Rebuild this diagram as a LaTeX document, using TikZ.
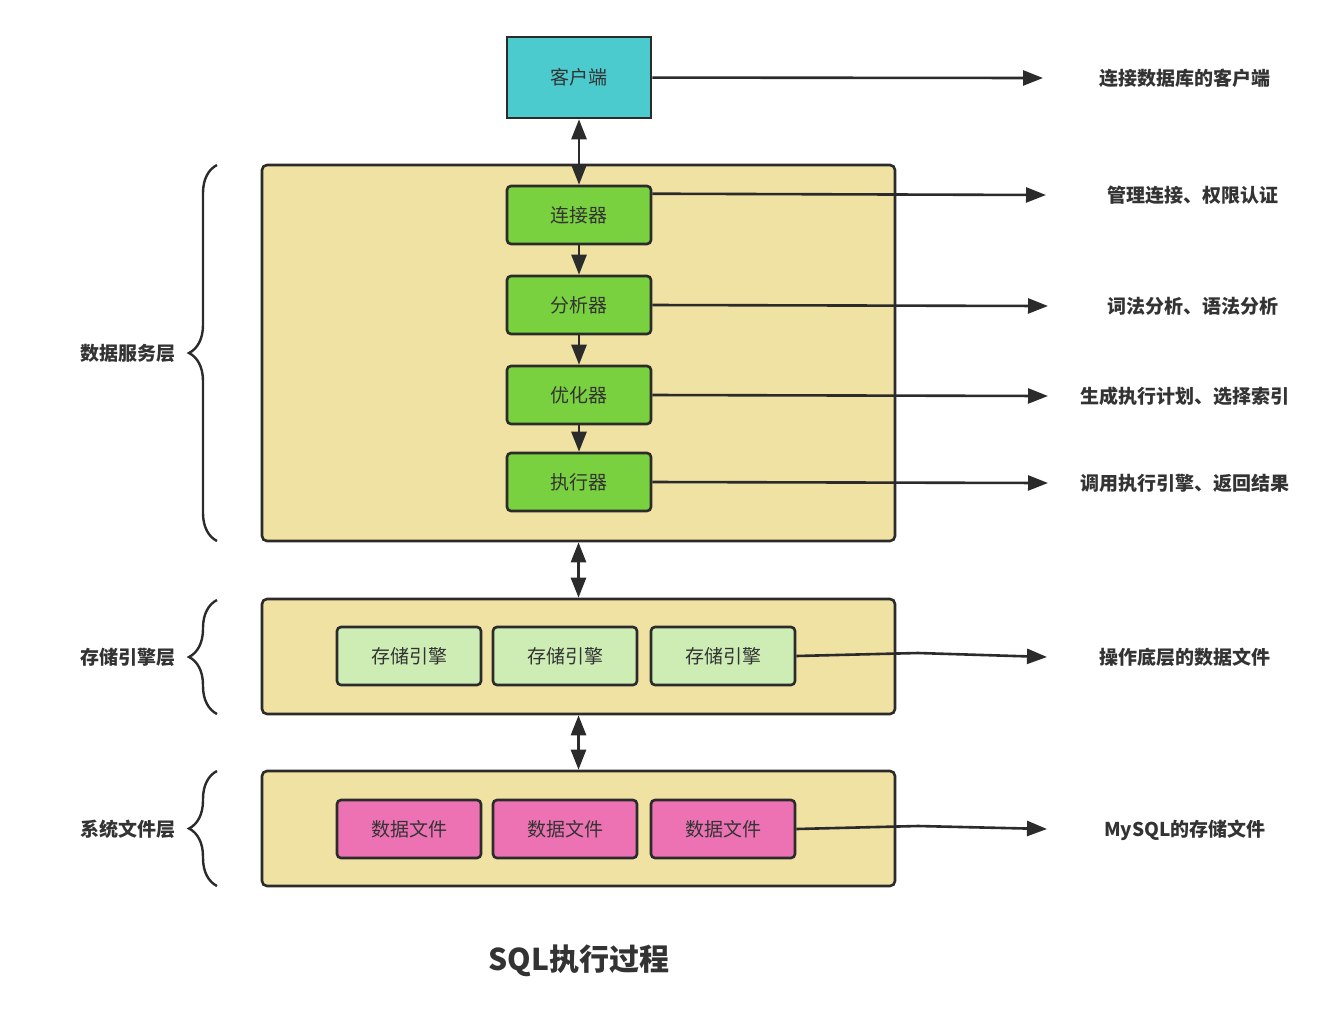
\documentclass[tikz,border=0pt]{standalone}
\usepackage{fontspec}
\setmainfont{Noto Sans CJK SC}
\usetikzlibrary{positioning,arrows.meta,decorations.pathreplacing}
\definecolor{inkcol}{HTML}{2B2B2B}
\definecolor{textcol}{HTML}{333333}
\definecolor{clientcol}{HTML}{4BCBCD}
\definecolor{layercol}{HTML}{F0E2A3}
\definecolor{stepcol}{HTML}{7AD13F}
\definecolor{enginecol}{HTML}{CDEDB5}
\definecolor{filecol}{HTML}{EC72B4}
\tikzset{
  box/.style={draw=inkcol, line width=2.6pt, minimum width=144pt, minimum height=58pt, inner sep=0pt,
    text=textcol, font=\fontsize{19}{22}\selectfont},
  stepbox/.style={box, fill=stepcol, rounded corners=4pt},
  layer/.style={draw=inkcol, line width=2.6pt, fill=layercol, rounded corners=5pt, minimum width=633pt, inner sep=0pt},
  lbl/.style={text=textcol, font=\bfseries\fontsize{19}{22}\selectfont},
  brc/.style={draw=inkcol, line width=2.4pt, decorate, decoration={brace, amplitude=28pt}}
}
\begin{document}
\begin{tikzpicture}[x=1pt,y=-1pt,>={Triangle[length=20pt,width=15pt]},line width=2.6pt,node distance=29.4pt]
  \useasboundingbox (0,0) rectangle (1341,1029);
  % layers
  \node[layer, minimum height=376pt] (serv) at (578.5,353) {};
  \node[layer, minimum height=115pt] (store) at (578.5,656.5) {};
  \node[layer, minimum height=115pt] (fsys) at (578.5,828.5) {};
  % client and server steps
  \node[box, fill=clientcol, minimum height=81pt] (client) at (579,77.5) {客户端};
  \node[stepbox] (conn) at (579,215) {连接器};
  \node[stepbox] (parse) [below=of conn] {分析器};
  \node[stepbox] (optim) [below=of parse] {优化器};
  \node[stepbox] (exec) [below=26.4pt of optim] {执行器};
  % engines and files
  \node[box, fill=enginecol, rounded corners=4pt] (eng2) at (565,656) {存储引擎};
  \node[box, fill=enginecol, rounded corners=4pt] (eng1) [left=9.4pt of eng2] {存储引擎};
  \node[box, fill=enginecol, rounded corners=4pt] (eng3) [right=11.4pt of eng2] {存储引擎};
  \node[box, fill=filecol, rounded corners=4pt] (file2) at (565,829) {数据文件};
  \node[box, fill=filecol, rounded corners=4pt] (file1) [left=9.4pt of file2] {数据文件};
  \node[box, fill=filecol, rounded corners=4pt] (file3) [right=11.4pt of file2] {数据文件};
  % right side notes
  \node[lbl] (n0) at (1185,78) {连接数据库的客户端};
  \node[lbl] (n1) at (1193,195) {管理连接、权限认证};
  \node[lbl] (n2) at (1193,306) {词法分析、语法分析};
  \node[lbl] (n3) at (1185,396) {生成执行计划、选择索引};
  \node[lbl] (n4) at (1185,483) {调用执行引擎、返回结果};
  \node[lbl] (n5) at (1185,657) {操作底层的数据文件};
  \node[lbl] (n6) at (1185,830) {MySQL的存储文件};
  \coordinate (t0) at (1043,78);
  \coordinate (t1) at (1046,195);
  \coordinate (t2) at (1048,306);
  \coordinate (t3) at (1048,396);
  \coordinate (t4) at (1048,483);
  \coordinate (t5) at (1047,657);
  \coordinate (t6) at (1047,829);
  \coordinate (k5) at (918,653);
  \coordinate (k6) at (918,826);
  % left side layer names
  \node[lbl, anchor=east] (l1) at (180,353) {数据服务层};
  \node[lbl, anchor=east] (l2) at (180,657) {存储引擎层};
  \node[lbl, anchor=east] (l3) at (180,829) {系统文件层};
  \draw[brc] (217,541) -- (217,165);
  \draw[brc] (217,714) -- (217,600);
  \draw[brc] (217,886) -- (217,771);
  % title
  \node[text=textcol, font=\bfseries\fontsize{30}{34}\selectfont] (title) at (579,961) {SQL执行过程};
  % connectors
  \draw[inkcol, <->] (client) -- (conn);
  \draw[inkcol, ->] (conn) -- (parse);
  \draw[inkcol, ->] (parse) -- (optim);
  \draw[inkcol, ->] (optim) -- (exec);
  \draw[inkcol, <->] (serv.south) -- (store.north);
  \draw[inkcol, <->] (store.south) -- (fsys.north);
  \draw[inkcol, ->] (client) -- (t0);
  \draw[inkcol, ->] ([yshift=-9pt]conn.north east) -- (t1);
  \draw[inkcol, ->] (parse.east) -- (t2);
  \draw[inkcol, ->] (optim.east) -- (t3);
  \draw[inkcol, ->] (exec.east) -- (t4);
  \draw[inkcol, ->] (eng3.east) -- (k5) -- (t5);
  \draw[inkcol, ->] (file3.east) -- (k6) -- (t6);
\end{tikzpicture}
\end{document}
